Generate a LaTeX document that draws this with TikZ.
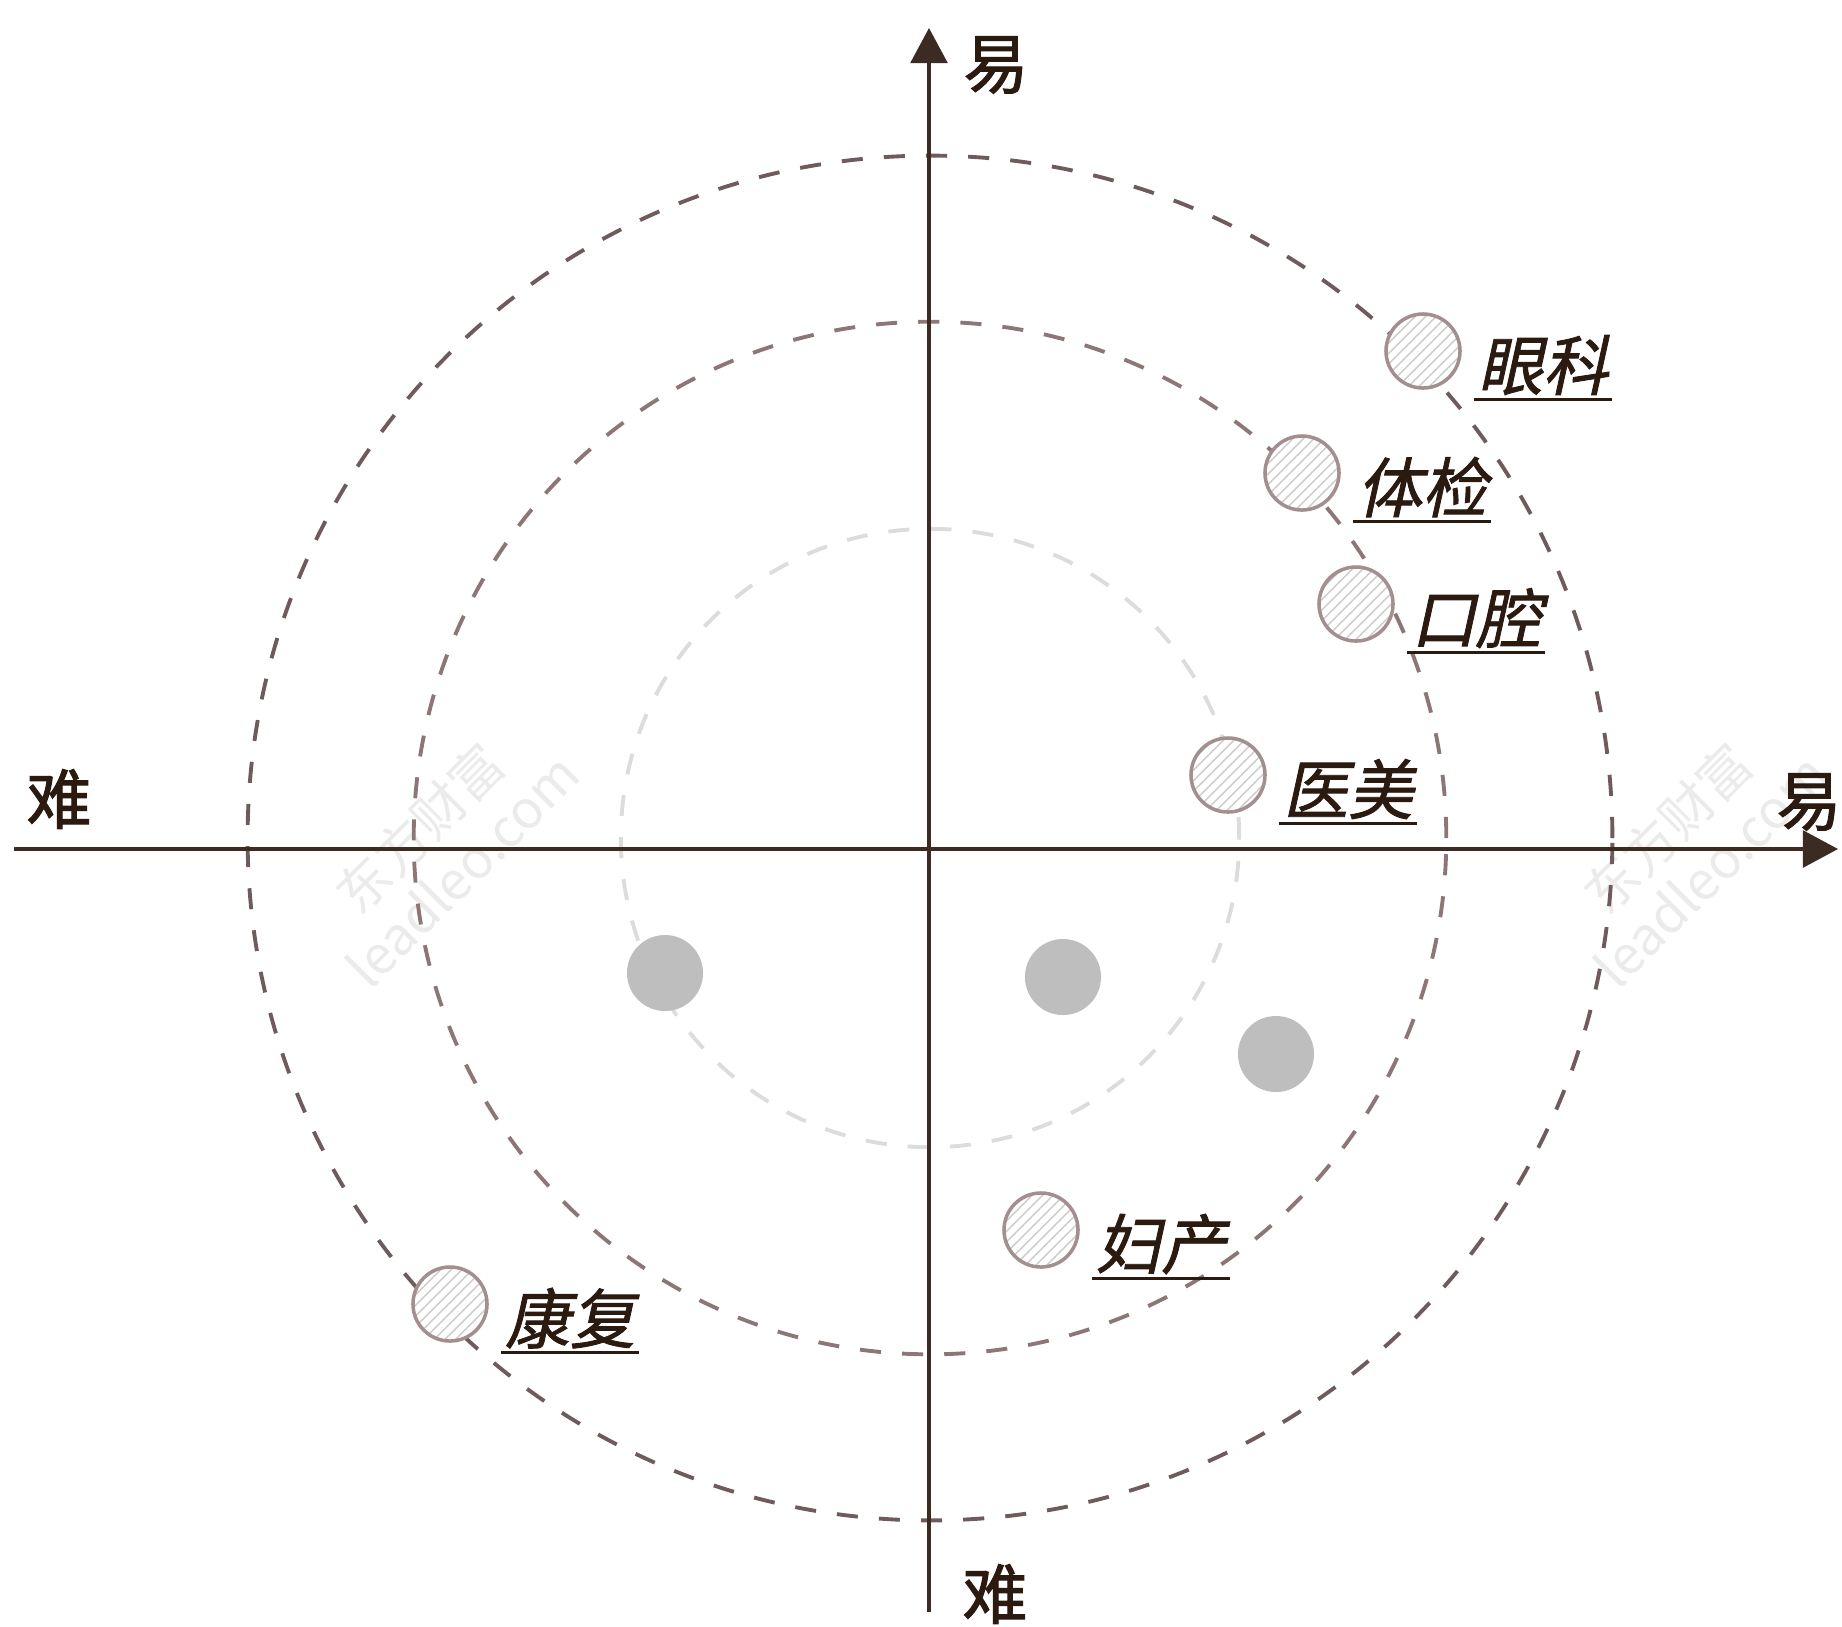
\documentclass[tikz,border=0pt]{standalone}
\usepackage{fontspec}
\newfontfamily\cjk{Noto Sans CJK SC}
\newfontfamily\cjkb{Noto Sans CJK SC}[FakeBold=1.6]
\newfontfamily\cjkit{Noto Sans CJK SC}[FakeSlant=0.22,FakeBold=1.3]
\usetikzlibrary{patterns,positioning,arrows.meta}
\definecolor{axisbrown}{HTML}{3B2B22}
\definecolor{inkbrown}{HTML}{2A1A10}
\definecolor{ringdark}{HTML}{6F5B5B}
\definecolor{ringmid}{HTML}{8C7676}
\definecolor{ringlight}{HTML}{DCDCDC}
\definecolor{dotrim}{HTML}{A48F90}
\definecolor{dotgray}{HTML}{BEBEBE}

\begin{document}
\begin{tikzpicture}[x=0.01cm,y=-0.01cm,
    ring/.style={line width=1.1pt,dash pattern=on 6pt off 6pt},
    axis/.style={axisbrown,line width=0.9pt,-{Triangle[length=10pt,width=10.5pt]}},
    axislabel/.style={text=inkbrown,font=\cjkb\fontsize{18.5}{20}\selectfont,inner sep=0pt},
    market/.style={circle,minimum size=0.74cm,inner sep=0pt,draw=dotrim,line width=1pt,
      preaction={fill=white},pattern=north east lines,pattern color=gray!40},
    blank/.style={circle,minimum size=0.76cm,inner sep=0pt,fill=dotgray},
    tag/.style={text=inkbrown,font=\cjkit\fontsize{18.5}{20}\selectfont,inner sep=1pt,right=0.12cm of #1,yshift=-4pt},
    uline/.style={inkbrown,line width=0.9pt},
    watermark/.style={text=gray!16,font=\cjk\fontsize{15}{17}\selectfont,align=center,rotate=45}]
  \useasboundingbox (0,0) rectangle (1842,1626);

  % watermarks
  \node[watermark] (wm-left) at (440,848) {东方财富\\leadleo.com};
  \node[watermark] (wm-right) at (1688,848) {东方财富\\leadleo.com};

  % rings
  \coordinate (c) at (930,838);
  \draw[ring,ringdark] (c) circle (6.82cm);
  \draw[ring,ringmid] (c) circle (5.16cm);
  \draw[ring,ringlight] (c) circle (3.09cm);

  % axes
  \draw[axis] (14,849) -- (1838,849);
  \draw[axis] (929,1612) -- (929,28);
  \node[axislabel] (easy-top) at (996,65) {易};
  \node[axislabel] (easy-right) at (1809,802) {易};
  \node[axislabel] (hard-left) at (59,799) {难};
  \node[axislabel] (hard-bottom) at (995,1594) {难};

  % unlabelled segments
  \node[blank] (g1) at (665,973) {};
  \node[blank] (g2) at (1063,977) {};
  \node[blank] (g3) at (1276,1054) {};

  % labelled segments
  \node[market] (yanke) at (1423,351) {};
  \node[tag=yanke] (yanke-t) {眼科};
  \node[market] (tijian) at (1302,473) {};
  \node[tag=tijian] (tijian-t) {体检};
  \node[market] (kouqiang) at (1356,604) {};
  \node[tag=kouqiang] (kouqiang-t) {口腔};
  \node[market] (yimei) at (1228,775) {};
  \node[tag=yimei] (yimei-t) {医美};
  \node[market] (fuchan) at (1041,1230) {};
  \node[tag=fuchan] (fuchan-t) {妇产};
  \node[market] (kangfu) at (450,1304) {};
  \node[tag=kangfu] (kangfu-t) {康复};

  \draw[uline] (yanke-t.south west) -- (yanke-t.south east);
  \draw[uline] (tijian-t.south west) -- (tijian-t.south east);
  \draw[uline] (kouqiang-t.south west) -- (kouqiang-t.south east);
  \draw[uline] (yimei-t.south west) -- (yimei-t.south east);
  \draw[uline] (fuchan-t.south west) -- (fuchan-t.south east);
  \draw[uline] (kangfu-t.south west) -- (kangfu-t.south east);
\end{tikzpicture}
\end{document}
